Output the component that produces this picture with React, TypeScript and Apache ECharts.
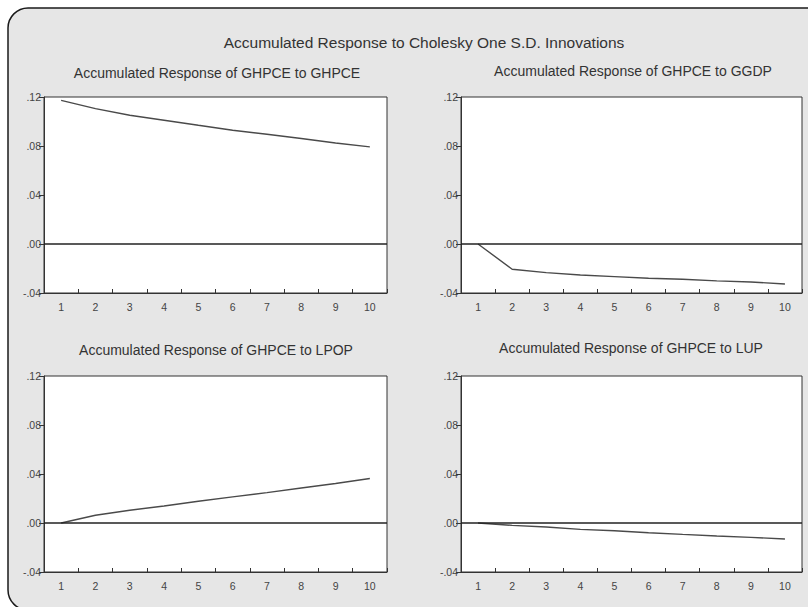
import React, { useEffect, useRef } from "react";
import * as echarts from "echarts";

const periods = ["1", "2", "3", "4", "5", "6", "7", "8", "9", "10"];
const mainTitle = "Accumulated Response to Cholesky One S.D. Innovations";
const panelTitles = [
  "Accumulated Response of GHPCE to GHPCE",
  "Accumulated Response of GHPCE to GGDP",
  "Accumulated Response of GHPCE to LPOP",
  "Accumulated Response of GHPCE to LUP",
];
const respGHPCE = [0.1173, 0.1105, 0.1051, 0.101, 0.0969, 0.0929, 0.0896, 0.0861, 0.0825, 0.0793];
const respGGDP = [0.0, -0.0206, -0.0234, -0.0253, -0.0266, -0.028, -0.0288, -0.0301, -0.031, -0.0326];
const respLPOP = [0.0, 0.0063, 0.0104, 0.0139, 0.0177, 0.0213, 0.0248, 0.0286, 0.0322, 0.0363];
const respLUP = [0.0, -0.0019, -0.0033, -0.0052, -0.0063, -0.0079, -0.0093, -0.0106, -0.0117, -0.0131];
const yMin = -0.04;
const yMax = 0.12;
const yStep = 0.04;

const seriesData = [respGHPCE, respGGDP, respLPOP, respLUP];

const grids = [
  { left: 44, top: 97, width: 343, height: 196 },
  { left: 461, top: 97, width: 341, height: 196 },
  { left: 44, top: 376, width: 343, height: 196 },
  { left: 461, top: 376, width: 341, height: 196 },
];
const titlePos = [
  { x: 217, y: 73 },
  { x: 633, y: 71 },
  { x: 216, y: 350 },
  { x: 631, y: 348 },
];

const fmt = (v: number) => {
  const r = Math.round(v * 100) / 100;
  const s = Math.abs(r).toFixed(2).replace(/^0/, "");
  return (r < 0 ? "-" : "") + s;
};

export default function App() {
  const ref = useRef<HTMLDivElement>(null);
  useEffect(() => {
    document.body.style.margin = "0";
    const chart = echarts.init(ref.current!, null, { renderer: "svg" });
    const font = "Liberation Sans, Arial, sans-serif";
    const option: any = {
      animation: false,
      backgroundColor: "#ffffff",
      textStyle: { fontFamily: font },
      graphic: [
        {
          type: "rect",
          z: -100,
          shape: { x: 8, y: 8, width: 840, height: 602, r: 20 },
          style: { fill: "#e6e6e6", stroke: "#1a1a1a", lineWidth: 1.5 },
        },
        {
          type: "text",
          x: 424,
          y: 42,
          style: {
            text: mainTitle,
            fill: "#333",
            font: `15.5px ${font}`,
            align: "center",
            verticalAlign: "middle",
          },
        },
        ...panelTitles.map((t, i) => ({
          type: "text",
          x: titlePos[i].x,
          y: titlePos[i].y,
          style: {
            text: t,
            fill: "#333",
            font: `14px ${font}`,
            align: "center",
            verticalAlign: "middle",
          },
        })),
      ],
      grid: grids.map((g) => ({
        ...g,
        show: true,
        backgroundColor: "#ffffff",
        borderColor: "#333",
        borderWidth: 1,
      })),
      xAxis: grids.map((_, i) => ({
        type: "category",
        gridIndex: i,
        data: periods,
        boundaryGap: true,
        axisLine: { show: true, onZero: false, lineStyle: { color: "#333", width: 1 } },
        axisTick: { show: true, inside: true, length: 4, lineStyle: { color: "#333" } },
        axisLabel: { color: "#444", fontSize: 10.5, margin: 8 },
        splitLine: { show: false },
      })),
      yAxis: grids.map((_, i) => ({
        type: "value",
        gridIndex: i,
        min: yMin,
        max: yMax,
        interval: yStep,
        axisLine: { show: true, lineStyle: { color: "#333", width: 1 } },
        axisTick: { show: true, inside: false, length: 5, lineStyle: { color: "#333" } },
        axisLabel: { color: "#444", fontSize: 10.5, margin: 3, formatter: fmt },
        splitLine: { show: false },
      })),
      series: seriesData.map((d, i) => ({
        type: "line",
        xAxisIndex: i,
        yAxisIndex: i,
        data: d,
        symbol: "none",
        lineStyle: { color: "#4a4a4a", width: 1.4 },
        markLine: {
          silent: true,
          symbol: ["none", "none"],
          label: { show: false },
          lineStyle: { color: "#222", type: "solid", width: 1.5 },
          data: [{ yAxis: 0 }],
        },
      })),
    };
    chart.setOption(option);
    return () => chart.dispose();
  }, []);
  return <div ref={ref} style={{ width: 808, height: 607 }} />;
}
